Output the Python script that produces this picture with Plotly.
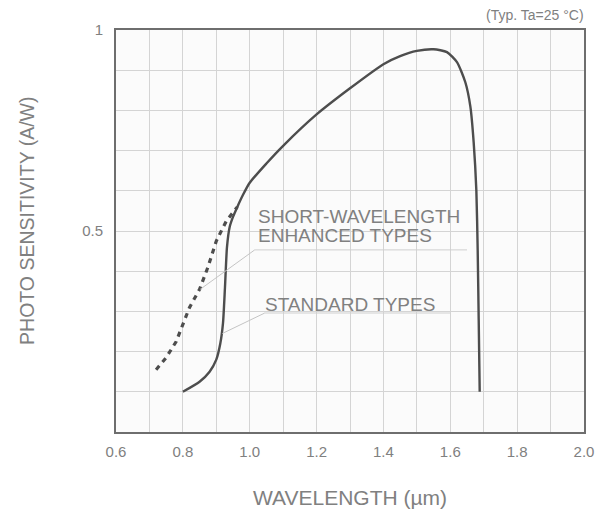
import plotly.graph_objects as go

# Standard types (solid)
std_x = [0.80, 0.85, 0.88, 0.90, 0.912, 0.920, 0.926, 0.932, 0.940, 0.950, 0.963, 0.98, 1.00,
         1.05, 1.10, 1.20, 1.30, 1.40, 1.45, 1.50, 1.55, 1.59, 1.62, 1.645, 1.66, 1.670,
         1.678, 1.682, 1.685, 1.688]
std_y = [0.10, 0.125, 0.15, 0.18, 0.22, 0.27, 0.36, 0.46, 0.51, 0.535, 0.56, 0.59, 0.62,
         0.668, 0.712, 0.79, 0.855, 0.915, 0.935, 0.948, 0.952, 0.945, 0.92, 0.87, 0.81, 0.72,
         0.60, 0.45, 0.28, 0.10]

# Short-wavelength enhanced types (dashed)
enh_x = [0.72, 0.75, 0.78, 0.82, 0.85, 0.875, 0.90, 0.93, 0.963]
enh_y = [0.155, 0.185, 0.225, 0.31, 0.355, 0.41, 0.475, 0.525, 0.56]

x_ticks = [0.6, 0.8, 1.0, 1.2, 1.4, 1.6, 1.8, 2.0]
x_ticktext = ["0.6", "0.8", "1.0", "1.2", "1.4", "1.6", "1.8", "2.0"]
y_ticks = [0.5, 1.0]
y_ticktext = ["0.5", "1"]

label_enh = ["SHORT-WAVELENGTH", "ENHANCED TYPES"]
label_std = "STANDARD TYPES"

# callout anchors (data coordinates)
enh_lbl = dict(x=1.015, y=0.453, xend=1.65)
std_lbl = dict(x=1.045, y=0.296, xend=1.60)
enh_pt = (0.852, 0.355)
std_pt = (0.918, 0.245)

TXT = "#808080"
LINE = "#4d4d4d"
GRID = "#d4d4d4"
FONT = "Liberation Sans, Arial, sans-serif"

fig = go.Figure()

fig.add_trace(go.Scatter(x=enh_x, y=enh_y, mode="lines",
                         line=dict(color=LINE, width=3.2, dash="5px,5px"),
                         hoverinfo="skip", showlegend=False))
fig.add_trace(go.Scatter(x=std_x, y=std_y, mode="lines", line_shape="spline",
                         line=dict(color=LINE, width=2.4, smoothing=0.6),
                         hoverinfo="skip", showlegend=False))

# callout lines
for lbl, pt in ((enh_lbl, enh_pt), (std_lbl, std_pt)):
    fig.add_shape(type="line", x0=pt[0], y0=pt[1], x1=lbl["x"], y1=lbl["y"],
                  line=dict(color="#c4c4c4", width=1))
    fig.add_shape(type="line", x0=lbl["x"], y0=lbl["y"], x1=lbl["xend"], y1=lbl["y"],
                  line=dict(color="#cfcfcf", width=1))

for txt, yv in zip(label_enh, [0.537, 0.488]):
    fig.add_annotation(x=1.02, y=yv, text=txt, showarrow=False,
                       xanchor="left", yanchor="middle", align="left",
                       font=dict(family=FONT, size=19, color=TXT))
fig.add_annotation(x=1.04, y=0.316, text=label_std, showarrow=False,
                   xanchor="left", yanchor="middle", align="left",
                   font=dict(family=FONT, size=19, color=TXT))
fig.add_annotation(xref="paper", yref="paper", x=1.0, y=1.0, yshift=15, xshift=2,
                   text="(Typ. Ta=25 \u00b0C)", showarrow=False,
                   xanchor="right", yanchor="middle",
                   font=dict(family=FONT, size=14, color=TXT))
# axis titles
fig.add_annotation(xref="paper", yref="paper", x=0.5, y=0, yshift=-65,
                   text="WAVELENGTH (\u00b5m)", showarrow=False,
                   xanchor="center", yanchor="middle",
                   font=dict(family=FONT, size=21, color=TXT))
fig.add_annotation(xref="paper", yref="paper", x=0, y=0.525, xshift=-89,
                   text="PHOTO SENSITIVITY (A/W)", showarrow=False, textangle=-90,
                   xanchor="center", yanchor="middle",
                   font=dict(family=FONT, size=19.5, color=TXT))

fig.update_layout(
    width=601, height=510,
    margin=dict(l=116, r=17, t=30, b=78, autoexpand=False),
    paper_bgcolor="white", plot_bgcolor="#fbfbfb",
    font=dict(family=FONT, color=TXT),
    xaxis=dict(range=[0.6, 2.0], tickvals=x_ticks, ticktext=x_ticktext,
               showgrid=True, gridcolor=GRID, gridwidth=1, automargin=False,
               minor=dict(dtick=0.1, tick0=0.6, showgrid=True, gridcolor=GRID, gridwidth=1),
               showline=True, linecolor="#6e6e6e", linewidth=2, mirror=True,
               zeroline=False, ticks="", ticklabelstandoff=5,
               tickfont=dict(size=15, color=TXT)),
    yaxis=dict(range=[0, 1.0], tickvals=y_ticks, ticktext=y_ticktext,
               showgrid=True, gridcolor=GRID, gridwidth=1, automargin=False,
               minor=dict(dtick=0.1, tick0=0, showgrid=True, gridcolor=GRID, gridwidth=1),
               showline=True, linecolor="#6e6e6e", linewidth=2, mirror=True,
               zeroline=False, ticks="", ticklabelstandoff=8,
               tickfont=dict(size=15, color=TXT)),
)

fig.write_html("out.html", config={"displayModeBar": False},
               post_script="document.body.style.margin='0';document.body.style.overflow='hidden';")
